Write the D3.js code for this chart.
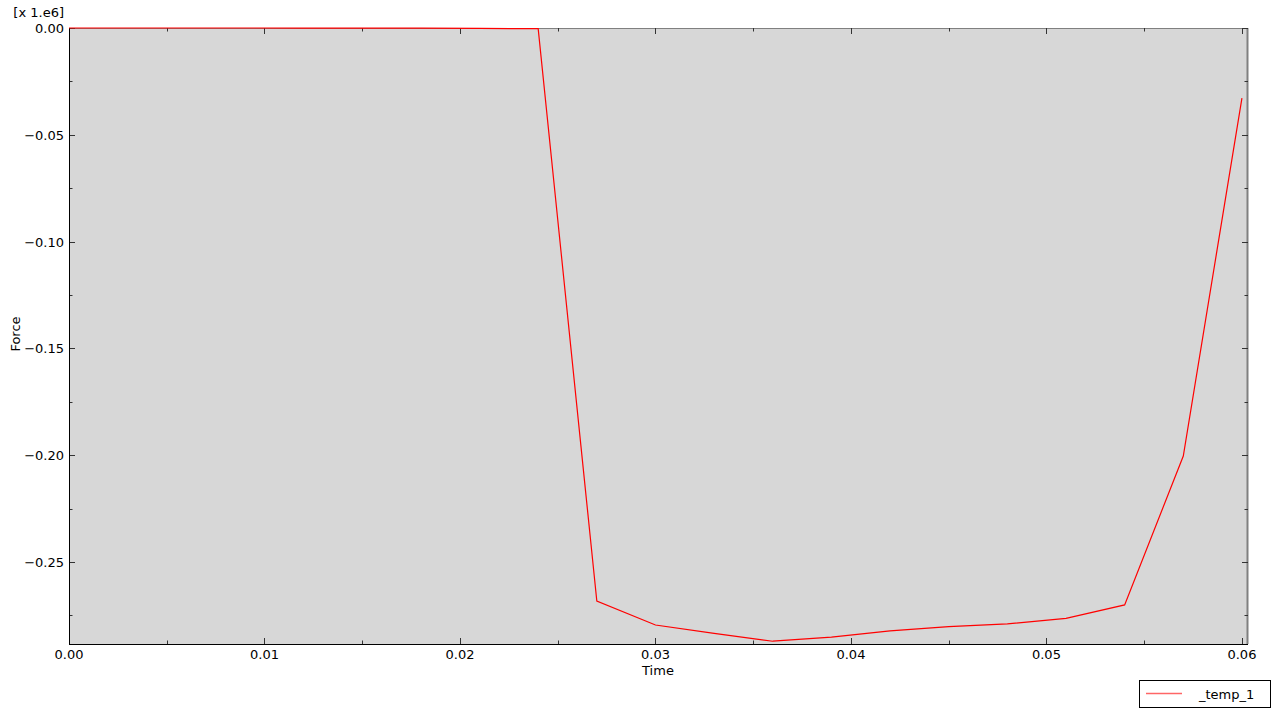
<!DOCTYPE html>
<html>
<head>
<meta charset="utf-8">
<script src="https://cdn.jsdelivr.net/npm/d3@7"></script>
<style>
  html, body { margin: 0; padding: 0; background: #fff; }
  svg { display: block; font-family: "DejaVu Sans", Verdana, sans-serif; }
</style>
</head>
<body>
<script>
// data (force in units of 1e6)
const times = [0, 0.003, 0.006, 0.009, 0.012, 0.015, 0.018, 0.021, 0.024, 0.027,
  0.030, 0.033, 0.036, 0.039, 0.042, 0.045, 0.048, 0.051, 0.054, 0.057, 0.060];
const forces = [0, 0, 0, 0, -0.00005, -0.0001, -0.0001, -0.0002, -0.0003, -0.2683,
  -0.2795, -0.2834, -0.2871, -0.2852, -0.2823, -0.2803, -0.2790, -0.2764, -0.2701, -0.2004, -0.0328];
const xTicks = [0, 0.01, 0.02, 0.03, 0.04, 0.05, 0.06];
const yTicks = [0, -0.05, -0.10, -0.15, -0.20, -0.25];
const seriesName = "_temp_1";

const width = 1273, height = 713;
const plotL = 69, plotR = 1248, plotT = 28, plotB = 644;

const x = d3.scaleLinear().domain([0, 0.06031]).range([plotL, plotR]);
const y = d3.scaleLinear().domain([0, -0.2884]).range([plotT, plotB]);

const svg = d3.select("body").append("svg")
  .attr("width", width)
  .attr("height", height);

// plot background
svg.append("rect")
  .attr("x", plotL).attr("y", plotT)
  .attr("width", plotR - plotL).attr("height", plotB - plotT)
  .attr("fill", "#d7d7d7");

// top and right frame (grey)
svg.append("line")
  .attr("x1", plotL).attr("x2", plotR).attr("y1", plotT + 0.5).attr("y2", plotT + 0.5)
  .attr("stroke", "#808080");
svg.append("line")
  .attr("x1", plotR - 0.5).attr("x2", plotR - 0.5).attr("y1", plotT).attr("y2", plotB)
  .attr("stroke", "#808080").attr("stroke-width", 2);

// ticks (inward on all four sides)
const xMinor = d3.range(0.005, 0.06, 0.01);
const yMinor = d3.range(-0.025, -0.29, -0.05);

function tickSet(vals, len) {
  return vals.map(v => ({ v, len }));
}
const xt = tickSet(xTicks, 10).concat(tickSet(xMinor, 5));
const yt = tickSet(yTicks, 10).concat(tickSet(yMinor, 5));

const ticks = svg.append("g").attr("stroke", "#333").attr("stroke-width", 1);
ticks.selectAll("line.xb").data(xt).join("line").attr("class", "xb")
  .attr("x1", d => Math.round(x(d.v)) + 0.5).attr("x2", d => Math.round(x(d.v)) + 0.5)
  .attr("y1", plotB).attr("y2", d => plotB - d.len / 2 - 1);
ticks.selectAll("line.xt").data(xt).join("line").attr("class", "xt")
  .attr("x1", d => Math.round(x(d.v)) + 0.5).attr("x2", d => Math.round(x(d.v)) + 0.5)
  .attr("y1", plotT).attr("y2", d => plotT + d.len / 2 + 1);
ticks.selectAll("line.yl").data(yt).join("line").attr("class", "yl")
  .attr("y1", d => Math.round(y(d.v)) + 0.5).attr("y2", d => Math.round(y(d.v)) + 0.5)
  .attr("x1", plotL).attr("x2", d => plotL + d.len / 2 + 1);
ticks.selectAll("line.yr").data(yt).join("line").attr("class", "yr")
  .attr("y1", d => Math.round(y(d.v)) + 0.5).attr("y2", d => Math.round(y(d.v)) + 0.5)
  .attr("x1", plotR).attr("x2", d => plotR - d.len / 2 - 1);

// left and bottom axis lines
svg.append("line")
  .attr("x1", plotL + 0.5).attr("x2", plotL + 0.5).attr("y1", plotT).attr("y2", plotB + 1)
  .attr("stroke", "#000");
svg.append("line")
  .attr("x1", plotL).attr("x2", plotR).attr("y1", plotB + 0.5).attr("y2", plotB + 0.5)
  .attr("stroke", "#000");

// tick labels
svg.append("g").selectAll("text").data(xTicks).join("text")
  .attr("x", d => x(d)).attr("y", 659)
  .attr("text-anchor", "middle")
  .attr("font-size", 13).attr("fill", "#000")
  .text(d => d3.format(".2f")(d));

svg.append("g").selectAll("text").data(yTicks).join("text")
  .attr("x", 64).attr("y", d => y(d) + 5)
  .attr("text-anchor", "end")
  .attr("font-size", 13).attr("fill", "#000")
  .text(d => d3.format(".2f")(d).replace("-0.00", "0.00"));

svg.append("text")
  .attr("x", 64).attr("y", 17)
  .attr("text-anchor", "end")
  .attr("font-size", 13).attr("fill", "#000")
  .text("[x 1.e6]");

// axis titles
svg.append("text")
  .attr("x", 658).attr("y", 675)
  .attr("text-anchor", "middle")
  .attr("font-size", 13).attr("fill", "#000")
  .text("Time");

svg.append("text")
  .attr("transform", "translate(20,334) rotate(-90)")
  .attr("text-anchor", "middle")
  .attr("font-size", 13).attr("fill", "#000")
  .text("Force");

// series
const pts = times.map((t, i) => [t, forces[i]]);
svg.append("path")
  .datum(pts)
  .attr("fill", "none")
  .attr("stroke", "#ff0000")
  .attr("stroke-width", 1.2)
  .attr("d", d3.line().x(d => x(d[0])).y(d => y(d[1])));

// legend
const lg = svg.append("g");
lg.append("rect")
  .attr("x", 1139.5).attr("y", 680.5).attr("width", 131).attr("height", 27)
  .attr("fill", "#fff").attr("stroke", "#000");
lg.append("line")
  .attr("x1", 1146).attr("x2", 1182).attr("y1", 693.5).attr("y2", 693.5)
  .attr("stroke", "#ff0000").attr("stroke-opacity", 0.6).attr("stroke-width", 1.5);
lg.append("text")
  .attr("x", 1199).attr("y", 699)
  .attr("font-size", 13).attr("fill", "#000")
  .text(seriesName);
</script>
</body>
</html>
